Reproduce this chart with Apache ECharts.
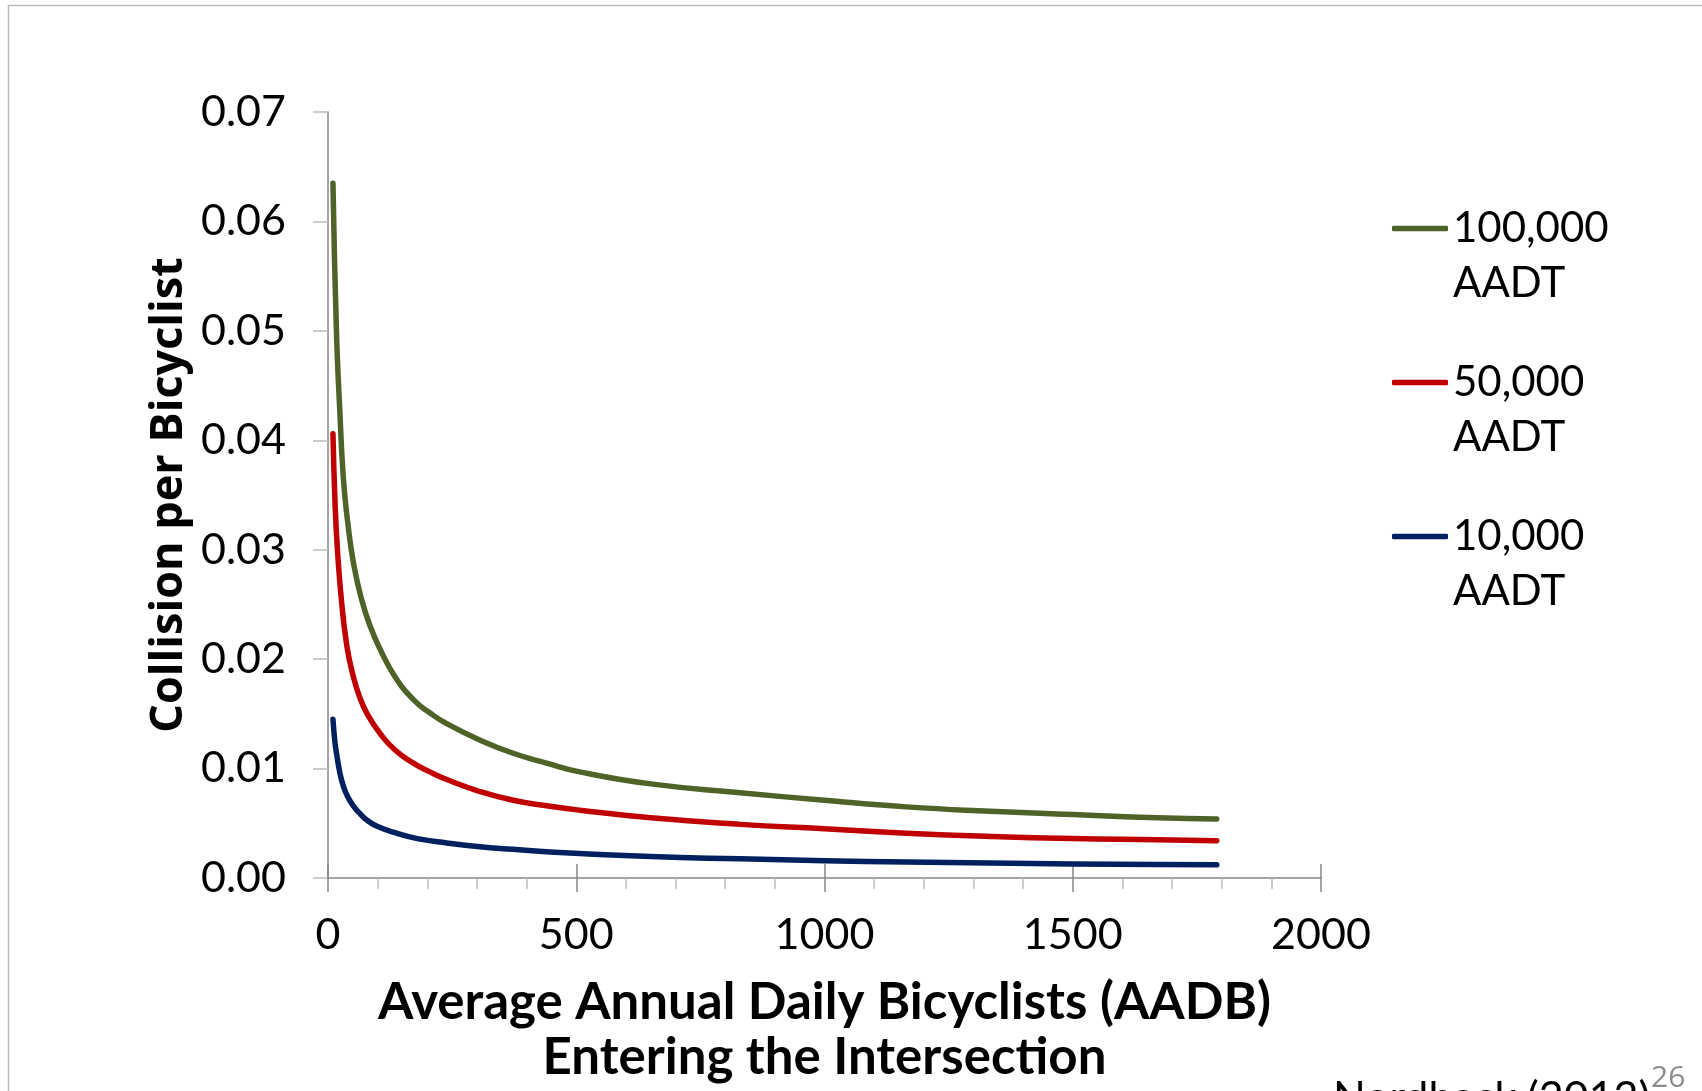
<!DOCTYPE html>
<html>
<head>
<meta charset="utf-8">
<script src="https://cdn.jsdelivr.net/npm/echarts@6/dist/echarts.min.js"></script>
<style>
html,body{margin:0;padding:0;background:#ffffff;}
#chart{width:1702px;height:1091px;}
</style>
</head>
<body>
<div id="chart"></div>
<script>
// ---- Data ----
const seriesNames = ['100,000', '50,000', '10,000'];
const legendUnit = 'AADT';
const seriesColors = ['#4F6228', '#C00000', '#002060'];

const aadb100k = [10, 17, 24, 31, 40, 52, 68, 85, 105, 135, 172, 205, 239, 306, 373, 440, 507, 650, 830, 1000, 1165, 1333, 1500, 1670, 1790];
const rate100k = [0.0635, 0.0500, 0.0425, 0.0365, 0.0324, 0.0286, 0.0254, 0.0230, 0.0209, 0.0184, 0.0163, 0.0151, 0.0141, 0.0126, 0.0114, 0.0105, 0.0097, 0.0086, 0.0078, 0.0071, 0.0065, 0.0061, 0.0058, 0.0055, 0.0054];

const aadb50k = [10, 14, 19, 27, 38, 50, 64, 80, 105, 135, 172, 205, 239, 306, 373, 440, 507, 650, 830, 1000, 1165, 1333, 1500, 1670, 1790];
const rate50k = [0.0406, 0.0345, 0.0300, 0.0254, 0.0212, 0.0186, 0.0165, 0.0149, 0.0132, 0.0117, 0.0105, 0.0097, 0.0090, 0.0079, 0.0071, 0.0066, 0.0062, 0.0055, 0.0049, 0.0045, 0.0041, 0.0038, 0.0036, 0.0035, 0.0034];

const aadb10k = [10, 14, 17.5, 24, 31, 40, 51, 64, 78, 100, 138, 180, 239, 306, 373, 440, 507, 650, 830, 1000, 1165, 1333, 1500, 1670, 1790];
const rate10k = [0.0145, 0.0124, 0.0113, 0.0096, 0.0084, 0.0074, 0.0066, 0.0059, 0.0053, 0.0047, 0.0041, 0.0036, 0.0032, 0.00285, 0.00262, 0.0024, 0.00223, 0.00196, 0.00175, 0.00158, 0.00146, 0.00137, 0.00129, 0.00123, 0.0012];

const xAxisTitle = 'Average Annual Daily Bicyclists (AADB)\nEntering the Intersection';
const yAxisTitle = 'Collision per Bicyclist';
const sourceNote = 'Nordback (2012)';
const slideNumber = '26';

const xMin = 0, xMax = 2000, xStep = 500;
const yMin = 0, yMax = 0.07, yStep = 0.01;

// ---- Build chart ----
const xs = [aadb100k, aadb50k, aadb10k];
const ys = [rate100k, rate50k, rate10k];

const chart = echarts.init(document.getElementById('chart'), null, {renderer: 'canvas'});

const axisGrey = '#868686';
const tickGrey = '#bcbcbc';

const series = seriesNames.map((name, i) => ({
  name: name,
  type: 'line',
  xAxisIndex: 0,
  yAxisIndex: 0,
  data: xs[i].map((x, k) => [x, ys[i][k]]),
  showSymbol: false,
  symbol: 'none',
  smooth: 0.5,
  lineStyle: {color: seriesColors[i], width: 5.5, cap: 'round', join: 'round'},
  itemStyle: {color: seriesColors[i]},
  emphasis: {disabled: true},
  z: 3 - i
}));

const option = {
  backgroundColor: '#ffffff',
  animation: false,
  color: seriesColors,
  grid: {left: 328, right: 381, top: 112, bottom: 213, containLabel: false},
  legend: {
    orient: 'vertical',
    left: 1392,
    top: 146,
    padding: 0,
    icon: 'roundRect',
    itemWidth: 56,
    itemHeight: 5.5,
    itemGap: -11,
    selectedMode: false,
    data: seriesNames,
    formatter: n => '\u00a0\n' + n + '\n' + legendUnit,
    textStyle: {
      fontFamily: 'Lato',
      fontSize: 42,
      color: '#000000',
      lineHeight: 55
    }
  },
  xAxis: [
    {
      type: 'value',
      position: 'bottom',
      min: xMin, max: xMax, interval: xStep,
      name: xAxisTitle,
      nameLocation: 'middle',
      nameGap: 97,
      nameMoveOverlap: false,
      nameTextStyle: {fontFamily: 'Lato', fontWeight: 'bold', fontSize: 51, lineHeight: 55, color: '#000000', align: 'center'},
      axisLine: {show: true, onZero: false, lineStyle: {color: axisGrey, width: 1.5}},
      axisTick: {show: true, inside: false, length: 14, lineStyle: {color: axisGrey, width: 1.5}},
      minorTick: {show: true, splitNumber: 5, length: 11, lineStyle: {color: tickGrey, width: 1.5}},
      splitLine: {show: false},
      minorSplitLine: {show: false},
      axisLabel: {fontFamily: 'Lato', fontSize: 43, color: '#000000', margin: 36, formatter: v => String(v)}
    },
    {
      type: 'value',
      position: 'bottom',
      offset: 0,
      min: xMin, max: xMax, interval: xStep,
      axisLine: {show: false},
      axisTick: {show: true, inside: true, length: 14, lineStyle: {color: axisGrey, width: 1.5}},
      axisLabel: {show: false},
      splitLine: {show: false}
    }
  ],
  yAxis: {
    type: 'value',
    min: yMin, max: yMax, interval: yStep,
    name: yAxisTitle,
    nameLocation: 'middle',
    nameGap: 136,
    nameMoveOverlap: false,
    nameTextStyle: {fontFamily: 'Open Sans', fontWeight: 'bold', fontSize: 45, color: '#000000'},
    axisLine: {show: true, onZero: false, lineStyle: {color: axisGrey, width: 1.5}},
    axisTick: {show: true, inside: false, length: 15, lineStyle: {color: tickGrey, width: 1.5}},
    splitLine: {show: false},
    axisLabel: {
      fontFamily: 'Lato', fontSize: 43, color: '#000000', margin: 42,
      formatter: v => v.toFixed(2)
    }
  },
  graphic: [
    {
      type: 'rect', silent: true, z: -1,
      shape: {x: 8.5, y: 5.5, width: 2000, height: 2000},
      style: {fill: 'none', stroke: '#bdbdbd', lineWidth: 1.5}
    },
    {
      type: 'text', silent: true,
      left: 1333, top: 1077,
      style: {text: sourceNote, font: '43px Lato', fill: '#000000'}
    },
    {
      type: 'text', silent: true,
      left: 1651, top: 1063,
      style: {text: slideNumber, font: '30px "Open Sans"', fill: '#8c8c8c'}
    }
  ],
  series: series
};

chart.setOption(option);
</script>
</body>
</html>
